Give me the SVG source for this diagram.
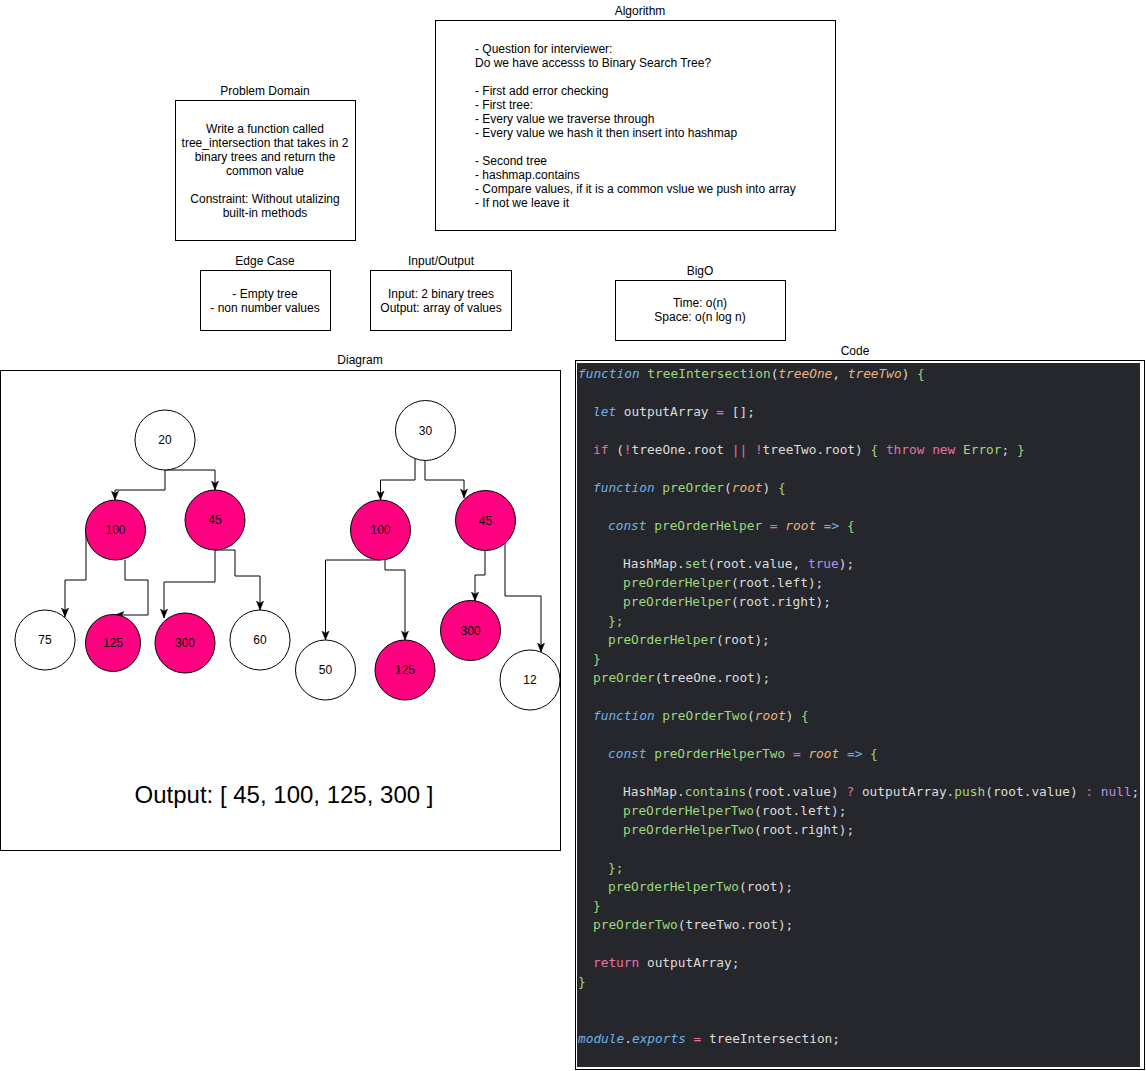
<svg xmlns="http://www.w3.org/2000/svg" width="1146" height="1071" viewBox="0 0 1146 1071">
<style>
.lbl{font-family:"Liberation Sans",Arial,sans-serif;font-size:12px;fill:#000;text-anchor:middle}
.txt{font-family:"Liberation Sans",Arial,sans-serif;font-size:12px;fill:#000}
.box{fill:#fff;stroke:#000;stroke-width:1}
.cw{fill:#fff;stroke:#000;stroke-width:1}
.cp{fill:#ff0080;stroke:#000;stroke-width:1}
.edge{fill:none;stroke:#000;stroke-width:1}
.code{font-family:"DejaVu Sans Mono","Liberation Mono",monospace;font-size:12.8px;fill:#dcdcdc}
.k{fill:#6cb2eb;font-style:italic}
.f{fill:#9fd87a}
.p{fill:#eab47c;font-style:italic}
.r{fill:#ea6fa6}
.u{fill:#bb8fe8}
.b{fill:#6cb2eb}
</style>
<defs>
<marker id="arr" viewBox="0 0 10 10" refX="10" refY="5" markerWidth="9" markerHeight="9" markerUnits="userSpaceOnUse" orient="auto">
<path d="M0,1 L10,5 L0,9 L2.5,5 z" fill="#000" stroke="#000" stroke-width="0.5"/>
</marker>
</defs>
<rect width="1146" height="1071" fill="#fff"/>

<g id="algorithm">
<text class="lbl" x="640" y="15">Algorithm</text>
<rect class="box" x="435.5" y="20.5" width="400" height="210"/>
<text class="txt" x="475" y="53">- Question for interviewer:</text>
<text class="txt" x="475" y="67">Do we have accesss to Binary Search Tree?</text>
<text class="txt" x="475" y="95">- First add error checking</text>
<text class="txt" x="475" y="109">- First tree:</text>
<text class="txt" x="475" y="123">- Every value we traverse through</text>
<text class="txt" x="475" y="137">- Every value we hash it then insert into hashmap</text>
<text class="txt" x="475" y="165">- Second tree</text>
<text class="txt" x="475" y="179">- hashmap.contains</text>
<text class="txt" x="475" y="193">- Compare values, if it is a common vslue we push into array</text>
<text class="txt" x="475" y="207">- If not we leave it</text>
</g>

<g id="problem-domain">
<text class="lbl" x="265" y="95">Problem Domain</text>
<rect class="box" x="175.5" y="100.5" width="180" height="140"/>
<text class="lbl" x="265" y="133">Write a function called</text>
<text class="lbl" x="265" y="147">tree_intersection that takes in 2</text>
<text class="lbl" x="265" y="161">binary trees and return the</text>
<text class="lbl" x="265" y="175">common value</text>
<text class="lbl" x="265" y="203">Constraint: Without utalizing</text>
<text class="lbl" x="265" y="217">built-in methods</text>
</g>

<g id="edge-case">
<text class="lbl" x="265" y="265">Edge Case</text>
<rect class="box" x="200.5" y="270.5" width="130" height="60"/>
<text class="lbl" x="265" y="298">- Empty tree</text>
<text class="lbl" x="265" y="312">- non number values</text>
</g>

<g id="input-output">
<text class="lbl" x="441" y="265">Input/Output</text>
<rect class="box" x="370.5" y="270.5" width="141" height="60"/>
<text class="lbl" x="441" y="298">Input: 2 binary trees</text>
<text class="lbl" x="441" y="312">Output: array of values</text>
</g>

<g id="bigo">
<text class="lbl" x="700" y="275">BigO</text>
<rect class="box" x="615.5" y="280.5" width="170" height="60"/>
<text class="lbl" x="700" y="307">Time: o(n)</text>
<text class="lbl" x="700" y="321">Space: o(n log n)</text>
</g>

<g id="diagram">
<text class="lbl" x="360" y="364">Diagram</text>
<rect class="box" x="0.5" y="370.5" width="560" height="480"/>
<text x="284" y="803" style="font-family:'Liberation Sans',Arial,sans-serif;font-size:24px;fill:#000;text-anchor:middle">Output: [ 45, 100, 125, 300 ]</text>
</g>

<g id="connectors">
<path class="edge" marker-end="url(#arr)" d="M165,470 V490 H115 V500"/>
<path class="edge" marker-end="url(#arr)" d="M165,470 H215 V490"/>
<path class="edge" marker-end="url(#arr)" d="M86,530 V580 H65 V617"/>
<path class="edge" marker-end="url(#arr)" d="M125,560 V580 H148 V615 H115"/>
<path class="edge" marker-end="url(#arr)" d="M215,550 V582 H164 V618"/>
<path class="edge" marker-end="url(#arr)" d="M215,550 H235 V576 H260 V610"/>
<path class="edge" marker-end="url(#arr)" d="M415,459 V480 H380.5 V500"/>
<path class="edge" marker-end="url(#arr)" d="M425,460 V480 H464 V498"/>
<path class="edge" marker-end="url(#arr)" d="M380,560 H325.5 V640"/>
<path class="edge" marker-end="url(#arr)" d="M385,560 V570 H405 V640"/>
<path class="edge" marker-end="url(#arr)" d="M485,550 V575 H475 V601"/>
<path class="edge" marker-end="url(#arr)" d="M505,543 V596 H541 V652"/>
</g>

<g id="t1-20"><circle class="cw" cx="165" cy="440" r="30"/><text class="lbl" x="165" y="444">20</text></g>
<g id="t1-100"><circle class="cp" cx="115.5" cy="530" r="30"/><text class="lbl" x="115.5" y="534">100</text></g>
<g id="t1-45"><circle class="cp" cx="215" cy="520" r="30"/><text class="lbl" x="215" y="524">45</text></g>
<g id="t1-75"><circle class="cw" cx="45" cy="640" r="30"/><text class="lbl" x="45" y="644">75</text></g>
<g id="t1-125"><ellipse class="cp" cx="113" cy="643" rx="27.5" ry="28.5"/><text class="lbl" x="113" y="647">125</text></g>
<g id="t1-300"><circle class="cp" cx="185" cy="643" r="30"/><text class="lbl" x="185" y="647">300</text></g>
<g id="t1-60"><circle class="cw" cx="260" cy="640" r="30"/><text class="lbl" x="260" y="644">60</text></g>

<g id="t2-30"><circle class="cw" cx="425.5" cy="430.5" r="30"/><text class="lbl" x="425.5" y="434.5">30</text></g>
<g id="t2-100"><circle class="cp" cx="380.5" cy="530" r="30"/><text class="lbl" x="380.5" y="534">100</text></g>
<g id="t2-45"><circle class="cp" cx="485.5" cy="520.5" r="30"/><text class="lbl" x="485.5" y="524.5">45</text></g>
<g id="t2-300"><circle class="cp" cx="470.5" cy="630.5" r="30"/><text class="lbl" x="470.5" y="634.5">300</text></g>
<g id="t2-50"><circle class="cw" cx="325.5" cy="670" r="30"/><text class="lbl" x="325.5" y="674">50</text></g>
<g id="t2-125"><circle class="cp" cx="405" cy="670" r="30"/><text class="lbl" x="405" y="674">125</text></g>
<g id="t2-12"><circle class="cw" cx="530" cy="680" r="30"/><text class="lbl" x="530" y="684">12</text></g>

<g id="code">
<text class="lbl" x="855" y="355">Code</text>
<rect class="box" x="575.5" y="360.5" width="569" height="709"/>
<rect x="577" y="363" width="563" height="704" fill="#25272c"/>
<g class="code" xml:space="preserve">
<text x="578" y="378"><tspan class="k">function</tspan> <tspan class="f">treeIntersection</tspan>(<tspan class="p">treeOne</tspan>, <tspan class="p">treeTwo</tspan>) <tspan class="f">{</tspan></text>
<text x="593" y="416"><tspan class="k">let</tspan> outputArray <tspan class="r">=</tspan> [];</text>
<text x="593" y="454"><tspan class="r">if</tspan> (<tspan class="r">!</tspan>treeOne.root <tspan class="r">||</tspan> <tspan class="r">!</tspan>treeTwo.root) <tspan class="f">{</tspan> <tspan class="r">throw</tspan> <tspan class="r">new</tspan> <tspan class="f">Error</tspan>; <tspan class="f">}</tspan></text>
<text x="593" y="492"><tspan class="k">function</tspan> <tspan class="f">preOrder</tspan>(<tspan class="p">root</tspan>) <tspan class="f">{</tspan></text>
<text x="608" y="530"><tspan class="k">const</tspan> <tspan class="f">preOrderHelper</tspan> <tspan class="r">=</tspan> <tspan class="p">root</tspan> <tspan class="b">=&gt;</tspan> <tspan class="f">{</tspan></text>
<text x="623" y="568">HashMap.<tspan class="f">set</tspan>(root.value, <tspan class="u">true</tspan>);</text>
<text x="623" y="587"><tspan class="f">preOrderHelper</tspan>(root.left);</text>
<text x="623" y="606"><tspan class="f">preOrderHelper</tspan>(root.right);</text>
<text x="608" y="625" class="f">};</text>
<text x="608" y="644"><tspan class="f">preOrderHelper</tspan>(root);</text>
<text x="593" y="663" class="f">}</text>
<text x="593" y="682"><tspan class="f">preOrder</tspan>(treeOne.root);</text>
<text x="593" y="720"><tspan class="k">function</tspan> <tspan class="f">preOrderTwo</tspan>(<tspan class="p">root</tspan>) <tspan class="f">{</tspan></text>
<text x="608" y="758"><tspan class="k">const</tspan> <tspan class="f">preOrderHelperTwo</tspan> <tspan class="r">=</tspan> <tspan class="p">root</tspan> <tspan class="b">=&gt;</tspan> <tspan class="f">{</tspan></text>
<text x="623" y="796">HashMap.<tspan class="f">contains</tspan>(root.value) <tspan class="r">?</tspan> outputArray.<tspan class="f">push</tspan>(root.value) <tspan class="r">:</tspan> <tspan class="u">null</tspan>;</text>
<text x="623" y="815"><tspan class="f">preOrderHelperTwo</tspan>(root.left);</text>
<text x="623" y="834"><tspan class="f">preOrderHelperTwo</tspan>(root.right);</text>
<text x="608" y="872" class="f">};</text>
<text x="608" y="891"><tspan class="f">preOrderHelperTwo</tspan>(root);</text>
<text x="593" y="910" class="f">}</text>
<text x="593" y="929"><tspan class="f">preOrderTwo</tspan>(treeTwo.root);</text>
<text x="593" y="967"><tspan class="r">return</tspan> outputArray;</text>
<text x="578" y="986" class="f">}</text>
<text x="578" y="1043"><tspan class="k">module</tspan>.<tspan class="k">exports</tspan> <tspan class="r">=</tspan> treeIntersection;</text>
</g>
</g>
</svg>
